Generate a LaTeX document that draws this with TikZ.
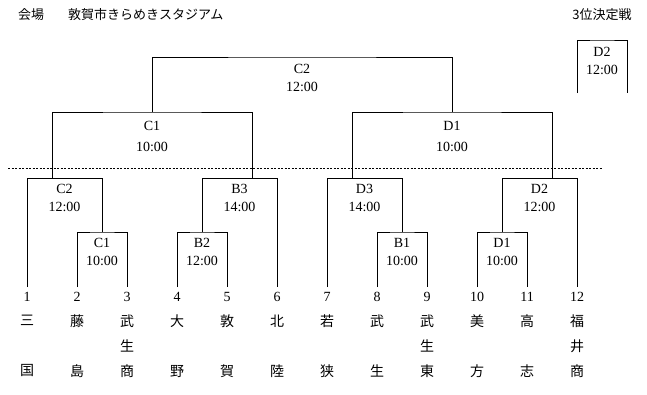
\documentclass[tikz,border=0pt]{standalone}
\usepackage{fontspec}
\setmainfont{Liberation Serif}
\newfontfamily\jpfont{Noto Sans CJK JP}
\tikzset{
  brk/.style={draw=black,line width=0.9pt},
  dots/.style={draw=black,line width=0.9pt,dash pattern=on 2pt off 1.5pt},
  mlab/.style={font=\fontsize{14}{18}\selectfont,align=center,inner sep=0pt},
  num/.style={font=\fontsize{14}{14}\selectfont,inner xsep=1pt,inner ysep=5pt},
  tname/.style={font=\jpfont\fontsize{14}{25}\selectfont,align=center,anchor=north,inner sep=0pt},
  ttl/.style={font=\jpfont\fontsize{13}{13}\selectfont,inner sep=0pt},
}
\begin{document}
\begin{tikzpicture}[x=1pt,y=-1pt]
  \useasboundingbox (0,0) rectangle (647,394);
  \node[ttl,anchor=west] (venue) at (18,15) {会場\hspace{24pt}敦賀市きらめきスタジアム};
  \node[ttl] (third) at (602,15) {3位決定戦};
  % team numbers
  \node[num] (t1) at (27,297) {1};
  \node[num] (t2) at (77,297) {2};
  \node[num] (t3) at (127,297) {3};
  \node[num] (t4) at (177,297) {4};
  \node[num] (t5) at (227,297) {5};
  \node[num] (t6) at (277,297) {6};
  \node[num] (t7) at (327,297) {7};
  \node[num] (t8) at (377,297) {8};
  \node[num] (t9) at (427,297) {9};
  \node[num] (t10) at (477,297) {10};
  \node[num] (t11) at (527,297) {11};
  \node[num] (t12) at (577,297) {12};
  % team names
  \node[tname] (n1) at (t1 |- 0,315) {三\\[25pt]国};
  \node[tname] (n2) at (t2 |- 0,315) {藤\\[25pt]島};
  \node[tname] (n3) at (t3 |- 0,315) {武\\生\\商};
  \node[tname] (n4) at (t4 |- 0,315) {大\\[25pt]野};
  \node[tname] (n5) at (t5 |- 0,315) {敦\\[25pt]賀};
  \node[tname] (n6) at (t6 |- 0,315) {北\\[25pt]陸};
  \node[tname] (n7) at (t7 |- 0,315) {若\\[25pt]狭};
  \node[tname] (n8) at (t8 |- 0,315) {武\\[25pt]生};
  \node[tname] (n9) at (t9 |- 0,315) {武\\生\\東};
  \node[tname] (n10) at (t10 |- 0,315) {美\\[25pt]方};
  \node[tname] (n11) at (t11 |- 0,315) {高\\[25pt]志};
  \node[tname] (n12) at (t12 |- 0,315) {福\\井\\商};
  % junctions
  \coordinate (j1) at (102,232);
  \coordinate (j2) at (102,178);
  \coordinate (a1) at (52,178);
  \coordinate (j3) at (202,232);
  \coordinate (j4) at (202,178);
  \coordinate (a2) at (252,178);
  \coordinate (j7) at (402,232);
  \coordinate (j8) at (402,178);
  \coordinate (a3) at (352,178);
  \coordinate (j9) at (502,232);
  \coordinate (j10) at (502,178);
  \coordinate (a4) at (552,178);
  \coordinate (j5) at (152,112);
  \coordinate (j11) at (452,112);
  \coordinate (j6) at (302,57);
  \coordinate (k) at (602,40);
  \coordinate (k1) at (577,93);
  \coordinate (k2) at (627,93);
  % bracket
  \draw[brk] (t2.north) |- (j1) -| (t3.north);
  \draw[brk] (t1.north) |- (j2) -- (j1);
  \draw[brk] (t4.north) |- (j3) -| (t5.north);
  \draw[brk] (j3) -- (j4) -| (t6.north);
  \draw[brk] (t8.north) |- (j7) -| (t9.north);
  \draw[brk] (t7.north) |- (j8) -- (j7);
  \draw[brk] (t10.north) |- (j9) -| (t11.north);
  \draw[brk] (j9) -- (j10) -| (t12.north);
  \draw[brk] (a1) |- (j5) -| (a2);
  \draw[brk] (a3) |- (j11) -| (a4);
  \draw[brk] (j5) |- (j6) -| (j11);
  \draw[brk] (k1) |- (k) -| (k2);
  \draw[dots] (8,168) -- (602,168);
  % match labels
  \node[mlab] (mC2a) at (64.5,198) {C2\\12:00};
  \node[mlab] (mC1a) at (102,252) {C1\\10:00};
  \node[mlab] (mB3) at (239.5,198) {B3\\14:00};
  \node[mlab] (mB2) at (202,252) {B2\\12:00};
  \node[mlab] (mD3) at (364.5,198) {D3\\14:00};
  \node[mlab] (mB1) at (402,252) {B1\\10:00};
  \node[mlab] (mD2a) at (539.5,198) {D2\\12:00};
  \node[mlab] (mD1a) at (502,252) {D1\\10:00};
  \node[mlab] (mC1b) at (152,136.5) {C1\\[3pt]10:00};
  \node[mlab] (mD1b) at (452,136.5) {D1\\[3pt]10:00};
  \node[mlab] (mC2b) at (302,78) {C2\\12:00};
  \node[mlab] (mD2b) at (602,60.5) {D2\\12:00};
\end{tikzpicture}
\end{document}
